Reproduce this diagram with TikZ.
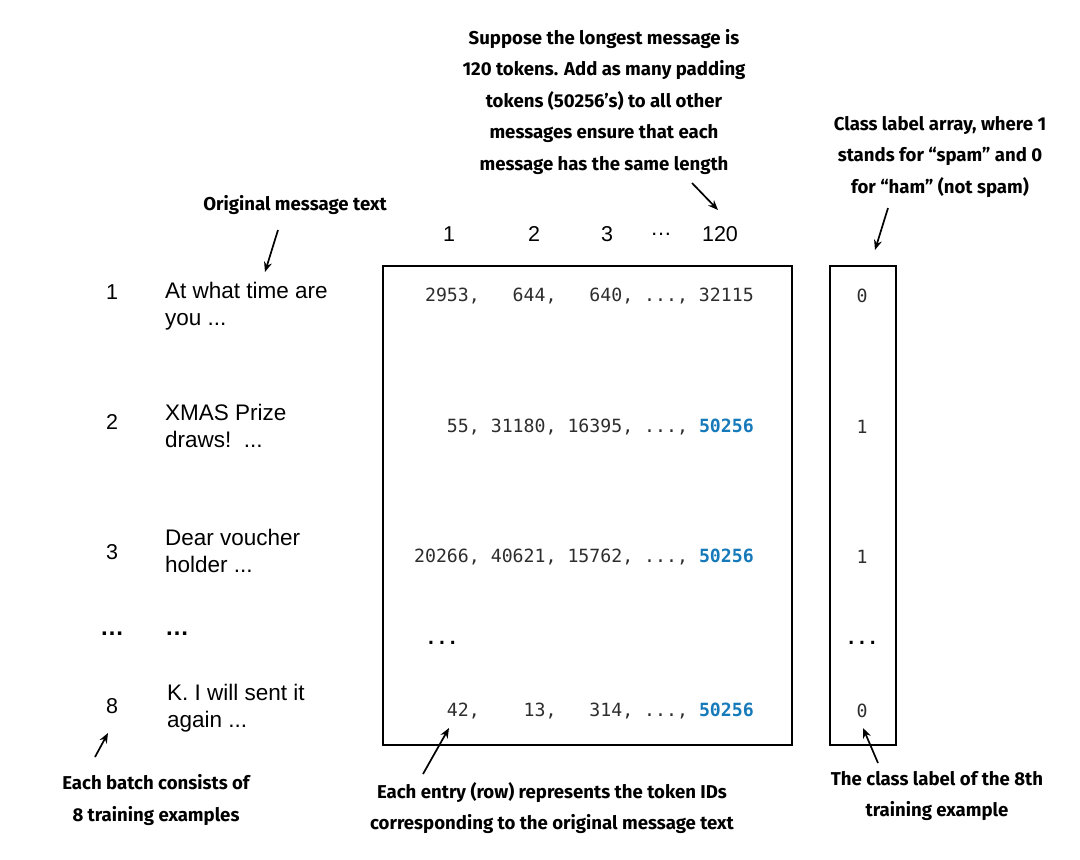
\documentclass[tikz,border=0pt]{standalone}
\usepackage{fontspec}
\usepackage{tkz-euclide}
\usetikzlibrary{arrows.meta}
\setmainfont{Liberation Sans}
\setmonofont{DejaVu Sans Mono}
\newfontfamily\notefont{Fira Sans}
\definecolor{padblue}{RGB}{22,122,186}
\definecolor{idgrey}{RGB}{45,45,45}
\newcommand{\padid}{\textcolor{padblue}{\textbf{50256}}}

\begin{document}
\begin{tikzpicture}[x=1pt, y=-1pt,
    note/.style={font=\notefont\bfseries\fontsize{18.6}{31.5}\selectfont, align=center},
    msg/.style={font=\fontsize{22.5}{27}\selectfont, align=left, anchor=west, inner sep=0pt},
    head/.style={font=\fontsize{21.5}{24}\selectfont},
    ids/.style={font=\ttfamily\fontsize{18.2}{20}\selectfont, text=idgrey, anchor=east, inner sep=0pt},
    pointer/.style={-{Stealth[length=10pt,width=8pt]}, line width=1.7pt}]
    \useasboundingbox (0,0) rectangle (1080,860);
    % notes
    \node[note] (longest) at (604,102) {Suppose the longest message is\\120 tokens. Add as many padding\\tokens (50256’s) to all other\\messages ensure that each\\message has the same length};
    \node[note] (classnote) at (940,157) {Class label array, where 1\\stands for “spam” and 0\\for “ham” (not spam)};
    \node[note] (orignote) at (295,205) {Original message text};
    \node[note] (entrynote) at (552,808) {Each entry (row) represents the token IDs\\corresponding to the original message text};
    \node[note] (eighthnote) at (937,796) {The class label of the 8th\\training example};
    \node[note] (batchnote) at (156,800) {Each batch consists of\\8 training examples};
    % boxes
    \node[draw, line width=1.6pt, minimum width=409, minimum height=479] (idbox) at (587.5,505.5) {};
    \node[draw, line width=1.6pt, minimum width=66, minimum height=479] (labelbox) at (863,505.5) {};
    % column numbers
    \foreach \t/\x [count=\i] in {1/449, 2/534, 3/607, …/661, 120/720}
        \node[head] (col\i) at (\x,234) {\t};
    % row numbers and messages
    \foreach \n/\y in {1/292, 2/422, 3/552, 8/706}
        \node[head] (row\n) at (112,\y) {\n};
    \node[head, font=\bfseries\fontsize{24}{24}\selectfont] (rowdots) at (112,634) {…};
    \node[msg] (msg1) at (165,306) {At what time are\\you ...};
    \node[msg] (msg2) at (165,426) {XMAS Prize\\draws!\ \ ...};
    \node[msg] (msg3) at (165,551) {Dear voucher\\holder ...};
    \node[msg, font=\bfseries\fontsize{24}{24}\selectfont] (msgdots) at (165,634) {…};
    \node[msg] (msg8) at (167,708) {K. I will sent it\\again ...};
    % token ids
    \node[ids] (ids1) at (754,296) {2953,~~~644,~~~640,~...,~32115};
    \node[ids] (ids2) at (754,427) {55,~31180,~16395,~...,~\padid};
    \node[ids] (ids3) at (754,557) {20266,~40621,~15762,~...,~\padid};
    \node[ids] (ids8) at (754,711) {42,~~~~13,~~~314,~...,~\padid};
    \node[ids, anchor=center, text=black, font=\ttfamily\bfseries\fontsize{18}{20}\selectfont] (idsdots) at (442,643) {...};
    % class labels
    \foreach \v/\y [count=\i] in {0/296, 1/427, 1/557, 0/711}
        \node[ids, anchor=center] (lab\i) at (862,\y) {\v};
    \node[ids, anchor=center, text=black, font=\ttfamily\bfseries\fontsize{18}{20}\selectfont] (labdots) at (862,643) {...};
    % pointers
    \tkzDefPoints{692/183/A, 718/210/B, 888/208/C, 875/250/D, 278/230/E, 265/272/F,
        95/757/G, 108/733/H, 423/774/I, 449/728/J, 878/763/K, 863/728/L}
    \draw[pointer] (A) -- (B);
    \draw[pointer] (C) -- (D);
    \draw[pointer] (E) -- (F);
    \draw[pointer] (G) -- (H);
    \draw[pointer] (I) -- (J);
    \draw[pointer] (K) -- (L);
\end{tikzpicture}
\end{document}
